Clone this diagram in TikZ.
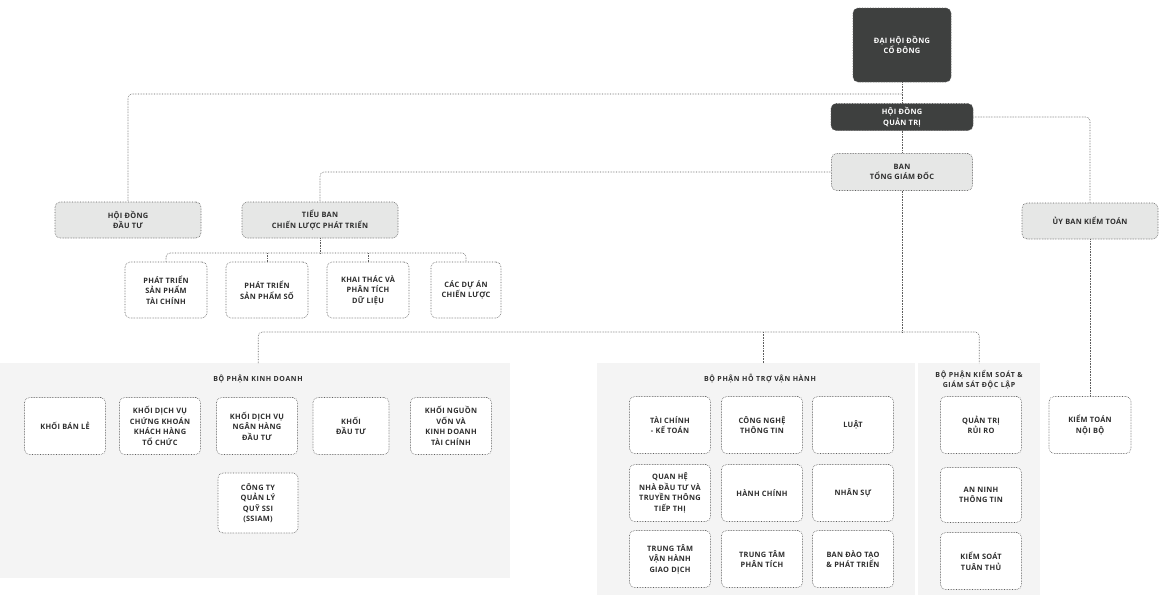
\documentclass[tikz,border=0pt]{standalone}
\usepackage{fontspec}
\newfontfamily\labfont[LetterSpace=4.0]{Open Sans}
\newfontfamily\titfont[LetterSpace=9.0]{Open Sans}
\usetikzlibrary{calc}
\definecolor{darkfill}{HTML}{3E403F}
\definecolor{midfill}{HTML}{E6E7E6}
\definecolor{panelfill}{HTML}{F4F4F4}
\definecolor{linecol}{HTML}{5E5E5E}
\definecolor{txtcol}{HTML}{2E2E2E}
\tikzset{
  lbl/.style={font=\labfont\bfseries\fontsize{7.4}{10.5}\selectfont, text=txtcol, align=center},
  boxbase/.style={lbl, draw=linecol, densely dotted, line width=0.6pt, rounded corners=5pt, inner sep=0pt},
  darkbox/.style={boxbase, fill=darkfill, text=white},
  graybox/.style={boxbase, fill=midfill},
  whitebox/.style={boxbase, fill=white, minimum width=81pt, minimum height=57pt},
  panel/.style={fill=panelfill, draw=none, inner sep=0pt, anchor=north west},
  ptitle/.style={font=\titfont\bfseries\fontsize{7}{10}\selectfont, text=txtcol, align=center},
  conn/.style={draw=linecol, densely dotted, line width=0.6pt, rounded corners=4pt}
}
\begin{document}
\begin{tikzpicture}[x=1pt,y=-1pt]
\useasboundingbox[fill=white] (0,0) rectangle (1159,598);

% panels
\node[panel, minimum width=510pt, minimum height=215pt] (kdp) at (0,363) {};
\node[panel, minimum width=318pt, minimum height=232pt] (htp) at (597,363) {};
\node[panel, minimum width=122pt, minimum height=232pt] (ksp) at (918,363) {};
\node[ptitle] (kdt) at (258,379) {BỘ PHẬN KINH DOANH};
\node[ptitle] (htt) at (760,379) {BỘ PHẬN HỖ TRỢ VẬN HÀNH};
\node[ptitle] (kst) at (979,380) {BỘ PHẬN KIỂM SOÁT \&\\GIÁM SÁT ĐỘC LẬP};

% top
\node[darkbox, minimum width=98pt, minimum height=74pt] (dhdcd) at (902,45) {ĐẠI HỘI ĐỒNG\\CỔ ĐÔNG};
\node[darkbox, minimum width=142pt, minimum height=27pt] (hdqt) at (902,117) {HỘI ĐỒNG\\QUẢN TRỊ};
\node[graybox, minimum width=141pt, minimum height=37pt] (btgd) at (902,172) {BAN\\TỔNG GIÁM ĐỐC};

% second tier
\node[graybox, minimum width=146pt, minimum height=36pt] (hddt) at (128,220) {HỘI ĐỒNG\\ĐẦU TƯ};
\node[graybox, minimum width=156pt, minimum height=36pt] (tb) at (320,220) {TIỂU BAN\\CHIẾN LƯỢC PHÁT TRIỂN};
\node[graybox, minimum width=136pt, minimum height=36pt] (ubkt) at (1090,221) {ỦY BAN KIỂM TOÁN};

% strategy boxes
\node[whitebox, minimum width=82pt, minimum height=56pt] (s1) at (166,290) {PHÁT TRIỂN\\SẢN PHẨM\\TÀI CHÍNH};
\node[whitebox, minimum width=82pt, minimum height=56pt] (s2) at (267,290) {PHÁT TRIỂN\\SẢN PHẨM SỐ};
\node[whitebox, minimum width=82pt, minimum height=56pt] (s3) at (368,290) {KHAI THÁC VÀ\\PHÂN TÍCH\\DỮ LIỆU};
\node[whitebox, minimum width=70pt, minimum height=56pt] (s4) at (466,290) {CÁC DỰ ÁN\\CHIẾN LƯỢC};

% business
\node[whitebox] (k1) at (65,426) {KHỐI BÁN LẺ};
\node[whitebox] (k2) at (160,426) {KHỐI DỊCH VỤ\\CHỨNG KHOÁN\\KHÁCH HÀNG\\TỔ CHỨC};
\node[whitebox] (k3) at (257,426) {KHỐI DỊCH VỤ\\NGÂN HÀNG\\ĐẦU TƯ};
\node[whitebox, minimum width=76pt] (k4) at (351,426) {KHỐI\\ĐẦU TƯ};
\node[whitebox] (k5) at (451,426) {KHỐI NGUỒN\\VỐN VÀ\\KINH DOANH\\TÀI CHÍNH};
\node[whitebox, minimum width=80pt, minimum height=60pt] (k6) at (258,503) {CÔNG TY\\QUẢN LÝ\\QUỸ SSI\\(SSIAM)};

% operations support
\node[whitebox] (h1) at (670,425) {TÀI CHÍNH\\- KẾ TOÁN};
\node[whitebox] (h2) at (762,425) {CÔNG NGHỆ\\THÔNG TIN};
\node[whitebox] (h3) at (853,425) {LUẬT};
\node[whitebox] (h4) at (670,493) {QUAN HỆ\\NHÀ ĐẦU TƯ VÀ\\TRUYỀN THÔNG\\TIẾP THỊ};
\node[whitebox] (h5) at (762,493) {HÀNH CHÍNH};
\node[whitebox] (h6) at (853,493) {NHÂN SỰ};
\node[whitebox] (h7) at (670,559) {TRUNG TÂM\\VẬN HÀNH\\GIAO DỊCH};
\node[whitebox] (h8) at (762,559) {TRUNG TÂM\\PHÂN TÍCH};
\node[whitebox] (h9) at (853,559) {BAN ĐÀO TẠO\\\& PHÁT TRIỂN};

% control
\node[whitebox] (c1) at (981,425) {QUẢN TRỊ\\RỦI RO};
\node[whitebox, minimum height=55pt] (c2) at (981,495) {AN NINH\\THÔNG TIN};
\node[whitebox] (c3) at (981,561) {KIỂM SOÁT\\TUÂN THỦ};

\node[whitebox, minimum width=82pt] (ktnb) at (1090,425) {KIỂM TOÁN\\NỘI BỘ};

% junctions
\coordinate (j1) at (902,94);
\coordinate (j2) at (320,253);
\coordinate (j3) at (902,332);

% connectors
\draw[conn] (dhdcd.south) -- (hdqt.north);
\draw[conn] (j1) -| (hddt.north);
\draw[conn] (hdqt.east) -| (ubkt.north);
\draw[conn] (ubkt.south) -- (ktnb.north);
\draw[conn] (hdqt.south) -- (btgd.north);
\draw[conn] (btgd.west) -| (tb.north);
\draw[conn] (tb.south) -- (j2);
\draw[conn] (s1.north) |- (j2) -| (s4.north);
\draw[conn] (s2.north) -- (s2.north |- j2);
\draw[conn] (s3.north) -- (s3.north |- j2);
\draw[conn] (btgd.south) -- (j3);
\draw[conn] ([xshift=3pt]kdp.north) |- (j3) -| (ksp.north);
\draw[conn] ([xshift=7pt]htp.north) -- ([xshift=7pt]htp.north |- j3);
\end{tikzpicture}
\end{document}
